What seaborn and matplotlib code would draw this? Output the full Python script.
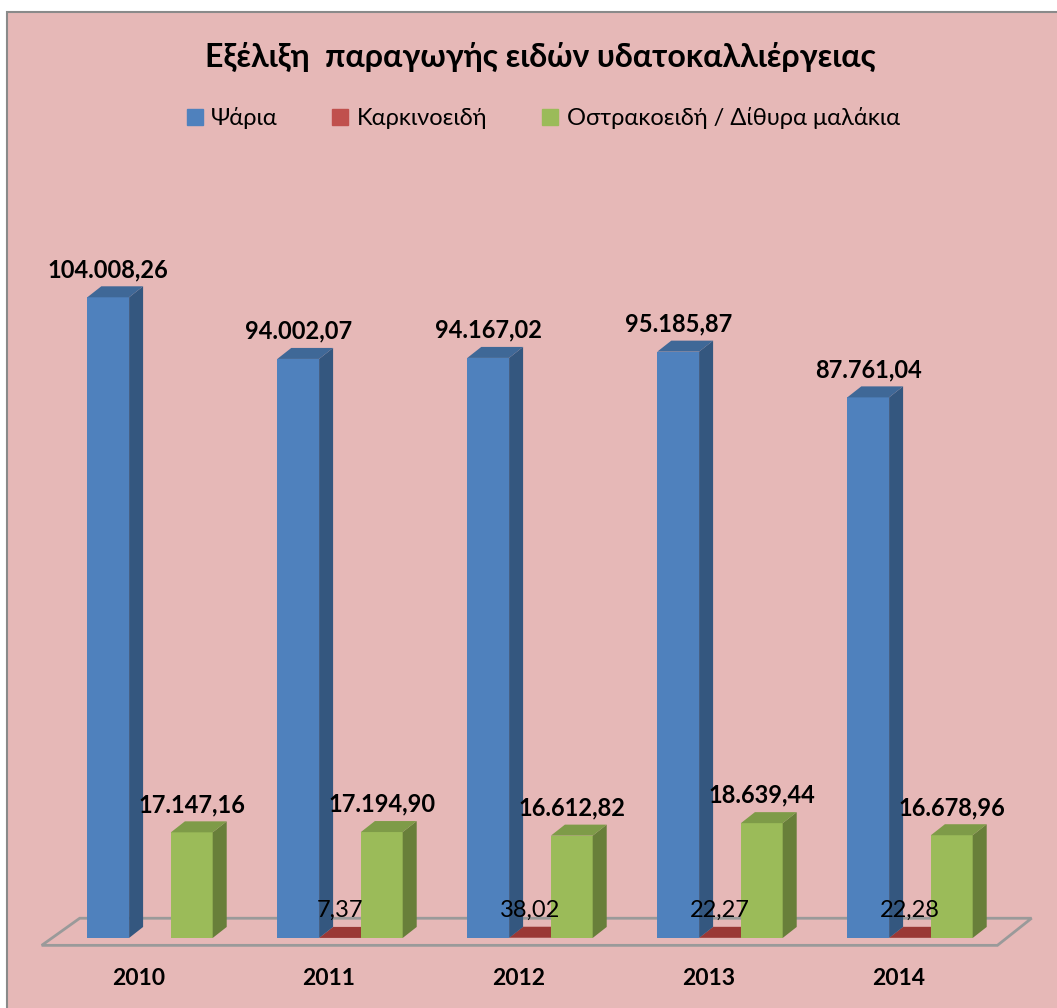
import numpy as np
import pandas as pd
import matplotlib
matplotlib.use('Agg')
import matplotlib.pyplot as plt
import seaborn as sns
from matplotlib.patches import Polygon, Rectangle
from matplotlib.lines import Line2D

# δεδομένα (τόνοι)
years = ['2010', '2011', '2012', '2013', '2014']
fish = [104008.26, 94002.07, 94167.02, 95185.87, 87761.04]
crust = [np.nan, 7.37, 38.02, 22.27, 22.28]
shell = [17147.16, 17194.90, 16612.82, 18639.44, 16678.96]
series = ['Ψάρια', 'Καρκινοειδή', 'Οστρακοειδή / Δίθυρα μαλάκια']

df = pd.DataFrame({
    'Έτος': years * 3,
    'Είδος': [series[0]] * 5 + [series[1]] * 5 + [series[2]] * 5,
    'Τόνοι': fish + crust + shell,
})

sns.set_theme(style='white')
plt.rcParams['font.family'] = ['Lato', 'DejaVu Sans']
plt.rcParams['text.color'] = 'black'
plt.rcParams['xtick.color'] = 'black'

front_c = ['#4F81BD', '#C0504D', '#9BBB59']
side_c = ['#34577F', '#8C2F2D', '#687F3A']
top_c = ['#3F6897', '#9A3835', '#7E9B48']
palette = dict(zip(series, front_c))

W, H = 1057, 1008
fig = plt.figure(figsize=(W / 100, H / 100), dpi=100, facecolor='white')
fig.patches.append(Rectangle((7 / W, -0.02), 1.0, 1 - 12 / H + 0.02, transform=fig.transFigure,
                             facecolor='#E6B8B7', edgecolor='#8A8A8A', lw=1.5, zorder=-10))

ax = fig.add_axes([36 / W, (H - 947.2) / H, 1007 / W, 748.4 / H])
ax.set_facecolor('none')

sns.barplot(data=df, x='Έτος', y='Τόνοι', hue='Είδος', palette=palette, width=0.66,
            dodge=True, saturation=1, legend=False, linewidth=0, ax=ax)

ax.set_xlim(-0.6, 4.7)
ax.set_ylim(-1500, 120000)

# ψευδο-3Δ βάθος
dx = 0.0737
dy = 1786
order = {0: 3, 1: 2, 2: 4}
for i, cont in enumerate(ax.containers):
    for bar in cont:
        h = bar.get_height()
        if not np.isfinite(h):
            continue
        x0, w = bar.get_x(), bar.get_width()
        z = order[i]
        bar.set_zorder(z)
        ax.add_patch(Polygon([(x0 + w, 0), (x0 + w + dx, dy), (x0 + w + dx, h + dy), (x0 + w, h)],
                             closed=True, facecolor=side_c[i], edgecolor='none', zorder=z))
        ax.add_patch(Polygon([(x0, h), (x0 + dx, h + dy), (x0 + w + dx, h + dy), (x0 + w, h)],
                             closed=True, facecolor=top_c[i], edgecolor='none', zorder=z))
        txt = f'{h:,.2f}'.replace(',', 'X').replace('.', ',').replace('X', '.')
        ax.annotate(txt, (x0 + w / 2, h), xytext=(0, 20), textcoords='offset points',
                    ha='center', va='center', fontsize=17, color='black',
                    fontweight='normal' if i == 1 else 'bold', zorder=10)

# δάπεδο
n = len(years)
floor = [(-0.57, -1200), (-0.37, 3200), (n - 1 + 0.64, 3200), (n - 1 + 0.46, -1200)]
ax.add_patch(Polygon(floor, closed=True, facecolor='none', edgecolor='#9A9A9A', lw=2, zorder=1))

for s in ax.spines.values():
    s.set_visible(False)
ax.set_yticks([])
ax.set_xticks([])
ax.set_xlabel('')
ax.set_ylabel('')

# ετικέτες ετών (μετατοπισμένες όπως στην προοπτική του Excel)
for i, y in enumerate(years):
    ax.annotate(y, (i, 0), xycoords=('data', 'axes fraction'), xytext=(-8, -22.5),
                textcoords='offset points', ha='center', va='center',
                fontsize=16.5, fontweight='bold', color='black')

fig.text(540 / W, 1 - 57 / H, 'Εξέλιξη  παραγωγής ειδών υδατοκαλλιέργειας',
         ha='center', va='center', fontsize=23, fontweight='bold', color='black')

handles = [Line2D([], [], marker='s', ls='none', markersize=11, color=c) for c in front_c]
fig.legend(handles, series, loc='center', bbox_to_anchor=(543 / W, 1 - 118 / H), ncol=3,
           frameon=False, fontsize=17, handlelength=0.7, handletextpad=0.35, columnspacing=2.3,
           labelcolor='black')

fig.savefig('out.png', dpi=100, facecolor=fig.get_facecolor())
